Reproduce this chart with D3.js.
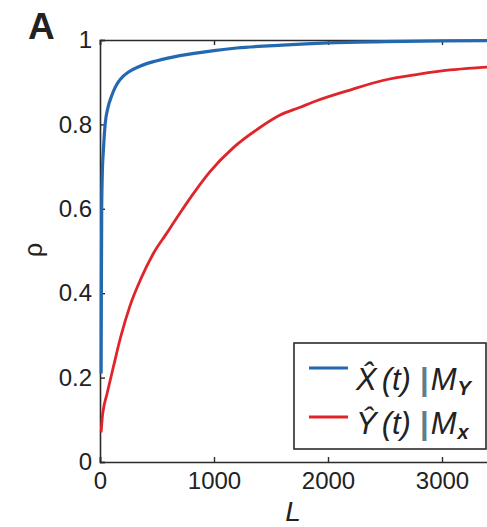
<!DOCTYPE html>
<html>
<head>
<meta charset="utf-8">
<script src="https://cdn.jsdelivr.net/npm/d3@7"></script>
<style>
  body { margin: 0; background: #fff; }
  svg { display: block; overflow: hidden; }
  text { font-family: "Liberation Sans", Arial, sans-serif; fill: #222; }
</style>
</head>
<body>
<div class="chart"></div>
<script>
// values
var blueL   = [10, 12, 15, 20, 30, 45, 70, 100, 130, 160, 200, 250, 350, 500, 700, 1000, 1200, 1600, 2000, 2500, 3000, 4000];
var blueRho = [0.21, 0.4, 0.6, 0.68, 0.74, 0.8, 0.84, 0.866, 0.886, 0.9, 0.913, 0.924, 0.938, 0.951, 0.963, 0.975, 0.981, 0.988, 0.993, 0.996, 0.998, 0.999];

var redL   = [10, 20, 30, 60, 117, 180, 263, 360, 468, 580, 702, 830, 965, 1170, 1400, 1580, 1750, 1900, 2200, 2480, 2800, 3070, 3400, 3700];
var redRho = [0.07, 0.105, 0.125, 0.16, 0.225, 0.295, 0.37, 0.435, 0.494, 0.54, 0.59, 0.64, 0.688, 0.745, 0.792, 0.822, 0.84, 0.856, 0.882, 0.904, 0.919, 0.929, 0.936, 0.942];

var xTicks = [0, 1000, 2000, 3000];
var yTicks = [0, 0.2, 0.4, 0.6, 0.8, 1];

var width = 487, height = 527;
var margin = {top: 40, left: 100};
var plotW = 456, plotH = 422;   // axis runs past the right edge (cropped)

var svg = d3.select(".chart").append("svg")
  .attr("width", width)
  .attr("height", height);

var x = d3.scaleLinear().domain([0, 4000]).range([margin.left, margin.left + plotW]);
var y = d3.scaleLinear().domain([0, 1]).range([margin.top + plotH, margin.top]);

// axes, matlab style: box on, ticks inward
var xAxis = svg.append("g")
  .attr("transform", "translate(0," + y(0) + ")")
  .call(d3.axisBottom(x).tickValues(xTicks).tickSize(-5).tickPadding(10).tickFormat(d3.format("d")));
var xTop = svg.append("g")
  .attr("transform", "translate(0," + y(1) + ")")
  .call(d3.axisTop(x).tickValues(xTicks).tickSize(-5).tickFormat(""));
var yAxis = svg.append("g")
  .attr("transform", "translate(" + x(0) + ",0)")
  .call(d3.axisLeft(y).tickValues(yTicks).tickSize(-5).tickPadding(8).tickFormat(function(d) { return d; }));

[xAxis, xTop, yAxis].forEach(function(g) {
  g.select(".domain").attr("stroke", "#2b2b2b").attr("stroke-width", 1.6);
  g.selectAll(".tick line").attr("stroke", "#2b2b2b").attr("stroke-width", 1.4);
  g.selectAll(".tick text").style("font-size", "24px").attr("fill", "#2b2b2b");
});

var line = d3.line()
  .x(function(d) { return x(d[0]); })
  .y(function(d) { return y(d[1]); })
  .curve(d3.curveMonotoneX);

svg.append("path")
  .datum(d3.zip(redL, redRho))
  .attr("d", line)
  .attr("fill", "none")
  .attr("stroke", "#e0242c")
  .attr("stroke-width", 2.8);

svg.append("path")
  .datum(d3.zip(blueL, blueRho))
  .attr("d", line)
  .attr("fill", "none")
  .attr("stroke", "#2469b0")
  .attr("stroke-width", 3.2);

// labels
svg.append("text")
  .attr("x", 28).attr("y", 39)
  .style("font-size", "37px").style("font-weight", "bold")
  .attr("fill", "#111")
  .text("A");

svg.append("text")
  .attr("transform", "translate(42,250) rotate(-90)")
  .attr("text-anchor", "middle")
  .style("font-size", "25px")
  .text("ρ");

svg.append("text")
  .attr("x", 293).attr("y", 521)
  .attr("text-anchor", "middle")
  .style("font-size", "28px").style("font-style", "italic")
  .text("L");

// legend
var leg = svg.append("g");
leg.append("rect")
  .attr("x", 294).attr("y", 343)
  .attr("width", 192).attr("height", 106)
  .attr("fill", "#fff")
  .attr("stroke", "#2b2b2b")
  .attr("stroke-width", 1.6);

var legItems = [
  {color: "#2469b0", main: "X\u0302", sub: "Y", y: 368, base: 390},
  {color: "#e0242c", main: "Y\u0302", sub: "x", y: 417, base: 434}
];

legItems.forEach(function(d) {
  leg.append("line")
    .attr("x1", 309).attr("x2", 348)
    .attr("y1", d.y).attr("y2", d.y)
    .attr("stroke", d.color)
    .attr("stroke-width", 3);
  var t = leg.append("text")
    .attr("x", 356).attr("y", d.base)
    .style("font-size", "31px").style("font-style", "italic")
    .attr("fill", "#1f2d44");
  t.append("tspan").text(d.main);
  t.append("tspan").attr("dx", 5).text("(t)");
  t.append("tspan").attr("dx", 9).attr("fill", "#5d7f8a")
    .style("font-style", "normal").style("font-weight", "bold").text("|");
  t.append("tspan").attr("dx", 2).text("M");
  t.append("tspan").attr("dx", 1).attr("dy", 5)
    .style("font-size", "20px").style("font-weight", "bold").text(d.sub);
});
</script>
</body>
</html>
